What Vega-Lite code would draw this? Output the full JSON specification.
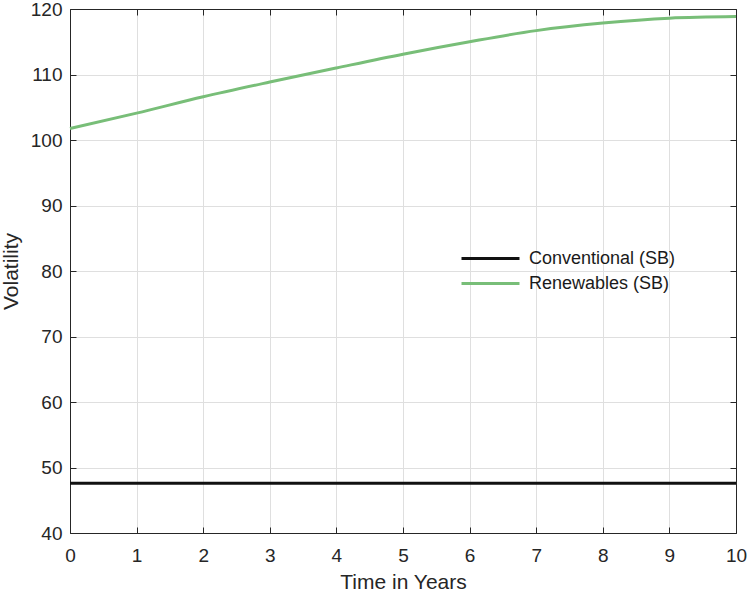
{
  "$schema": "https://vega.github.io/schema/vega-lite/v6.json",
  "width": 666,
  "height": 524,
  "autosize": {"type": "none"},
  "padding": {"left": 70, "top": 9, "right": 11, "bottom": 61},
  "background": "white",
  "config": {
    "font": "Liberation Sans",
    "view": {"stroke": null},
    "axis": {
      "domainColor": "#262626",
      "domainWidth": 1,
      "tickColor": "#262626",
      "tickWidth": 1,
      "tickSize": -6,
      "gridColor": "#dfdfdf",
      "gridWidth": 1,
      "labelFlush": false,
      "labelOverlap": false,
      "labelFont": "Liberation Sans",
      "labelFontSize": 19,
      "labelColor": "#262626",
      "titleFont": "Liberation Sans",
      "titleFontSize": 21,
      "titleFontWeight": "normal",
      "titleColor": "#262626"
    }
  },
  "data": {
    "values": [
      {"year": 0, "volatility": 47.6, "series": "Conventional (SB)"},
      {"year": 10, "volatility": 47.6, "series": "Conventional (SB)"},
      {"year": 0, "volatility": 101.75, "series": "Renewables (SB)"},
      {"year": 1, "volatility": 104.1, "series": "Renewables (SB)"},
      {"year": 2, "volatility": 106.6, "series": "Renewables (SB)"},
      {"year": 3, "volatility": 108.85, "series": "Renewables (SB)"},
      {"year": 4, "volatility": 111.0, "series": "Renewables (SB)"},
      {"year": 5, "volatility": 113.1, "series": "Renewables (SB)"},
      {"year": 6, "volatility": 115.0, "series": "Renewables (SB)"},
      {"year": 7, "volatility": 116.7, "series": "Renewables (SB)"},
      {"year": 8, "volatility": 117.85, "series": "Renewables (SB)"},
      {"year": 9, "volatility": 118.6, "series": "Renewables (SB)"},
      {"year": 10, "volatility": 118.85, "series": "Renewables (SB)"}
    ]
  },
  "layer": [
    {
      "mark": {"type": "line", "strokeWidth": 3, "interpolate": "monotone"},
      "encoding": {
        "x": {
          "field": "year",
          "type": "quantitative",
          "scale": {"domain": [0, 10], "nice": false},
          "axis": {
            "orient": "bottom",
            "title": "Time in Years",
            "values": [0, 1, 2, 3, 4, 5, 6, 7, 8, 9, 10],
            "labelPadding": 19,
            "titlePadding": 6
          }
        },
        "y": {
          "field": "volatility",
          "type": "quantitative",
          "scale": {"domain": [40, 120], "nice": false, "zero": false},
          "axis": {
            "orient": "left",
            "title": "Volatility",
            "values": [40, 50, 60, 70, 80, 90, 100, 110, 120],
            "labelPadding": 14,
            "titlePadding": 9
          }
        },
        "color": {
          "field": "series",
          "type": "nominal",
          "scale": {
            "domain": ["Conventional (SB)", "Renewables (SB)"],
            "range": ["#111111", "#78be78"]
          },
          "legend": {
            "title": null,
            "orient": "none",
            "legendX": 407,
            "legendY": 236,
            "symbolType": "M-2.5,0H2.5",
            "symbolSize": 538,
            "symbolStrokeWidth": 3,
            "labelFontSize": 18,
            "labelColor": "#1a1a1a",
            "labelOffset": 25,
            "rowPadding": 2
          }
        }
      }
    },
    {
      "mark": {"type": "line", "opacity": 0},
      "encoding": {
        "x": {
          "field": "year",
          "type": "quantitative",
          "axis": {
            "orient": "top",
            "title": null,
            "labels": false,
            "grid": false,
            "values": [0, 1, 2, 3, 4, 5, 6, 7, 8, 9, 10]
          }
        },
        "y": {
          "field": "volatility",
          "type": "quantitative",
          "axis": {
            "orient": "right",
            "title": null,
            "labels": false,
            "grid": false,
            "values": [40, 50, 60, 70, 80, 90, 100, 110, 120]
          }
        },
        "detail": {"field": "series", "type": "nominal"}
      }
    }
  ],
  "resolve": {"axis": {"x": "independent", "y": "independent"}}
}
